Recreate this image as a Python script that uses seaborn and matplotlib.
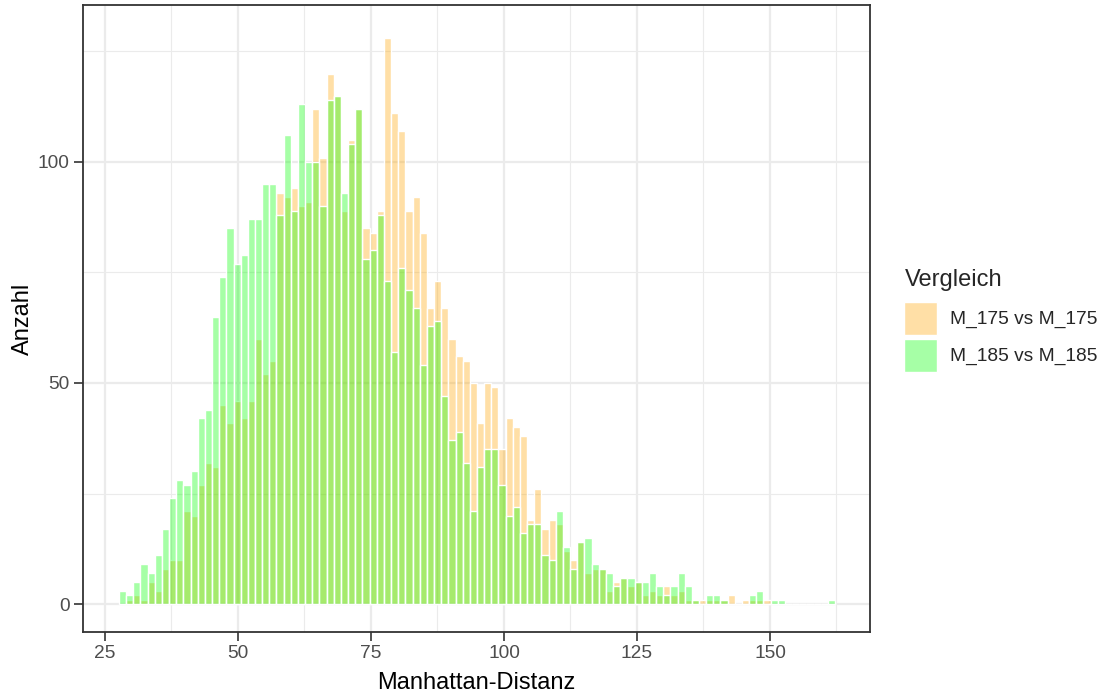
import numpy as np
import pandas as pd
import matplotlib
matplotlib.use("Agg")
import matplotlib.pyplot as plt
from matplotlib.ticker import MultipleLocator
import seaborn as sns

# ---- data (bin counts, 100 bins) ----
bin_start = 28.3      # centre of first bin
bin_width = 1.346
series_labels = ["M_175 vs M_175", "M_185 vs M_185"]
counts_175 = [0, 1, 2, 1, 5, 3, 8, 10, 10, 21,
              20, 27, 32, 31, 45, 41, 46, 42, 46, 60,
              52, 55, 93, 92, 94, 90, 91, 112, 101, 120,
              115, 89, 105, 112, 85, 84, 89, 128, 111, 107,
              89, 92, 84, 67, 73, 67, 60, 56, 55, 50,
              41, 50, 49, 35, 42, 40, 38, 19, 26, 17,
              19, 18, 12, 10, 14, 7, 8, 8, 3, 5,
              6, 4, 5, 2, 3, 2, 4, 2, 3, 1,
              1, 1, 1, 1, 1, 2, 0, 1, 1, 1,
              1, 0, 0, 0, 0, 0, 0, 0, 0, 0]
counts_185 = [3, 2, 5, 9, 7, 11, 17, 24, 28, 27,
              30, 42, 44, 65, 74, 85, 77, 79, 87, 87,
              95, 95, 88, 106, 89, 113, 100, 100, 90, 114,
              115, 93, 104, 112, 78, 80, 88, 73, 57, 76,
              71, 67, 54, 63, 64, 47, 37, 39, 32, 21,
              31, 35, 35, 27, 20, 22, 16, 18, 18, 11,
              10, 21, 13, 8, 14, 15, 9, 8, 7, 4,
              6, 6, 5, 5, 7, 4, 2, 4, 7, 4,
              1, 0, 2, 2, 1, 0, 0, 0, 2, 3,
              0, 1, 1, 0, 0, 0, 0, 0, 0, 1]
x_ticks = [25, 50, 75, 100, 125, 150]
y_ticks = [0, 50, 100]
colors = ["orange", "#00FF00"]

n_bins = len(counts_175)
centers = bin_start + bin_width * np.arange(n_bins)
bin_lo = bin_start - bin_width / 2
bin_hi = bin_lo + bin_width * n_bins

df = pd.DataFrame({
    "Distanz": np.concatenate([centers, centers]),
    "Anzahl": np.concatenate([counts_175, counts_185]).astype(float),
    "Vergleich": np.repeat(series_labels, n_bins),
})

sns.set_style("white")
plt.rcParams["font.family"] = ["Liberation Sans", "DejaVu Sans"]

fig = plt.figure(figsize=(11.09, 6.93), dpi=100)
ax = fig.add_axes([0.0748, 0.088, 0.7097, 0.9048])

for lab, col in zip(series_labels, colors):
    sub = df[df["Vergleich"] == lab].reset_index(drop=True)
    sns.histplot(data=sub, x="Distanz", weights="Anzahl", bins=n_bins,
                 binrange=(bin_lo, bin_hi),
                 color=col, alpha=0.35, edgecolor="white", linewidth=1.0,
                 label=lab, ax=ax)

ax.set_xlim(20.86, 168.8)
ax.set_ylim(-6.33, 135.5)
ax.set_xticks(x_ticks)
ax.set_yticks(y_ticks)
ax.xaxis.set_minor_locator(MultipleLocator(12.5))
ax.yaxis.set_minor_locator(MultipleLocator(25))
ax.grid(True, which="major", color="#EBEBEB", linewidth=1.6, zorder=0)
ax.grid(True, which="minor", color="#EBEBEB", linewidth=0.8, zorder=0)
ax.set_axisbelow(True)
for sp in ax.spines.values():
    sp.set_color("#333333")
    sp.set_linewidth(1.3)
ax.tick_params(axis="both", which="major", length=6.5, width=1.2, color="#333333",
               labelsize=13.8, labelcolor="#4D4D4D", pad=3, bottom=True, left=True)
ax.tick_params(axis="both", which="minor", length=0)
ax.set_xlabel("Manhattan-Distanz", fontsize=17, color="black", labelpad=7)
ax.set_ylabel("Anzahl", fontsize=17, color="black", labelpad=2.5)

leg = fig.legend(title="Vergleich", loc="center left",
                 bbox_to_anchor=(0.8, 0.538), frameon=False,
                 fontsize=13.8, title_fontsize=17,
                 handlelength=1.72, handleheight=2.27, handletextpad=0.65,
                 labelspacing=0.21)
leg._legend_box.align = "left"
leg._legend_box.sep = 8

fig.savefig("out.png", dpi=100)
